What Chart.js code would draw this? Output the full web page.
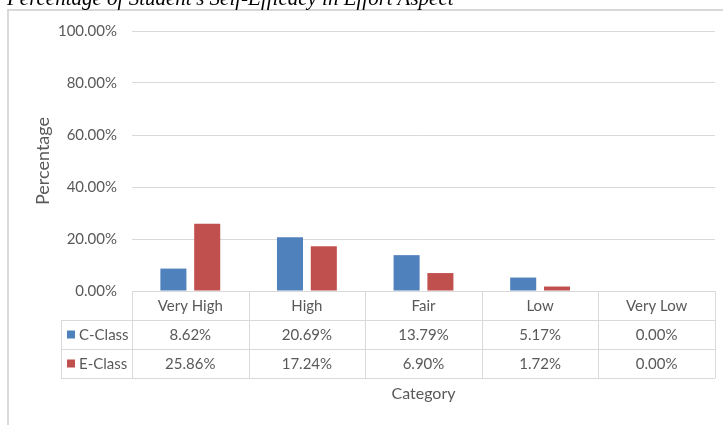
<!DOCTYPE html>
<html>
<head>
<meta charset="utf-8">
<script src="https://cdn.jsdelivr.net/npm/chart.js@4.4.0/dist/chart.umd.min.js"></script>
<style>
  html, body { margin: 0; padding: 0; background: #fff; overflow: hidden; }
  #wrap { position: relative; width: 723px; height: 425px; }
  #frame { position: absolute; left: 7px; top: 9px; width: 730px; height: 430px;
           border: 2px solid #d9d9d9; box-sizing: border-box; }
  #title { position: absolute; left: 7px; top: -14px; margin: 0; white-space: nowrap;
           font: italic 21px "Liberation Serif", "DejaVu Serif", serif; color: #000; }
  canvas { position: absolute; left: 0; top: 0; }
</style>
</head>
<body>
<div id="wrap">
  <div id="frame"></div>
  <canvas id="chart" width="723" height="425"></canvas>
  <p id="title">Percentage of Student's Self-Efficacy in Effort Aspect</p>
</div>
<script>
// data
var categories = ["Very High", "High", "Fair", "Low", "Very Low"];
var seriesNames = ["C-Class", "E-Class"];
var cClass = [8.62, 20.69, 13.79, 5.17, 0.00];
var eClass = [25.86, 17.24, 6.90, 1.72, 0.00];
var yTicks = [0, 20, 40, 60, 80, 100];

var textColor = "#595959";
var lineColor = "#d9d9d9";
var font = "Lato, 'Open Sans', sans-serif";
var colors = ["#4f81bd", "#c0504d"];

// data table under the plot, aligned to the category scale
var dataTable = {
  id: "dataTable",
  afterDraw: function (chart) {
    var ctx = chart.ctx;
    var x = chart.scales.x;
    var area = chart.chartArea;
    var rowH = 29;
    var top = area.bottom;
    var legendLeft = 61;
    var rows = [cClass, eClass];
    var step = x.getPixelForValue(1) - x.getPixelForValue(0);
    ctx.save();
    ctx.strokeStyle = lineColor;
    ctx.lineWidth = 1;
    ctx.beginPath();
    // horizontal rules
    ctx.moveTo(area.left, top + 0.5); ctx.lineTo(area.right, top + 0.5);
    for (var r = 1; r <= 3; r++) {
      var yy = Math.round(top + r * rowH) + 0.5;
      ctx.moveTo(legendLeft, yy); ctx.lineTo(area.right, yy);
    }
    // vertical rules
    for (var i = 0; i <= categories.length; i++) {
      var xx = Math.round(x.getPixelForValue(i) - step / 2) + 0.5;
      ctx.moveTo(xx, top); ctx.lineTo(xx, top + 3 * rowH);
    }
    ctx.moveTo(legendLeft + 0.5, top + rowH); ctx.lineTo(legendLeft + 0.5, top + 3 * rowH);
    ctx.stroke();

    ctx.fillStyle = textColor;
    ctx.font = "15px " + font;
    ctx.textAlign = "center";
    ctx.textBaseline = "middle";
    categories.forEach(function (c, i) {
      ctx.fillText(c, x.getPixelForValue(i), top + rowH / 2 + 1);
    });
    rows.forEach(function (vals, r) {
      var cy = top + rowH * (r + 1.5) + 1;
      vals.forEach(function (v, i) {
        ctx.fillStyle = textColor;
        ctx.textAlign = "center";
        ctx.fillText(v.toFixed(2) + "%", x.getPixelForValue(i), cy);
      });
      ctx.fillStyle = colors[r];
      ctx.fillRect(67, cy - 5, 8, 8);
      ctx.fillStyle = textColor;
      ctx.textAlign = "left";
      ctx.fillText(seriesNames[r], 79, cy);
    });
    ctx.restore();
  }
};

new Chart(document.getElementById("chart"), {
  type: "bar",
  data: {
    labels: categories,
    datasets: [
      { label: seriesNames[0], data: cClass, backgroundColor: colors[0] },
      { label: seriesNames[1], data: eClass, backgroundColor: colors[1] }
    ]
  },
  options: {
    responsive: false,
    animation: false,
    categoryPercentage: 0.58,
    barPercentage: 0.77,
    layout: { padding: { top: 31, right: 8, left: 0, bottom: 0 } },
    plugins: { legend: { display: false }, tooltip: { enabled: false } },
    scales: {
      x: {
        grid: { display: false },
        border: { display: false },
        ticks: { display: false },
        title: { display: true, text: "Category", color: textColor,
                 font: { family: font, size: 16 }, padding: { top: 0, bottom: 22 } },
        afterFit: function (s) { s.height = 134; }
      },
      y: {
        min: 0, max: 100,
        afterBuildTicks: function (s) { s.ticks = yTicks.map(function (v) { return { value: v }; }); },
        grid: { color: lineColor, drawTicks: false },
        border: { display: false },
        ticks: { padding: 15, color: textColor, font: { family: font, size: 15 },
                 callback: function (v) { return v.toFixed(2) + "%"; } },
        title: { display: true, text: "Percentage", color: textColor,
                 font: { family: font, size: 18 }, padding: { top: 32, bottom: 0 } },
        afterFit: function (s) { s.width = 132; }
      }
    }
  },
  plugins: [dataTable]
});
</script>
</body>
</html>
